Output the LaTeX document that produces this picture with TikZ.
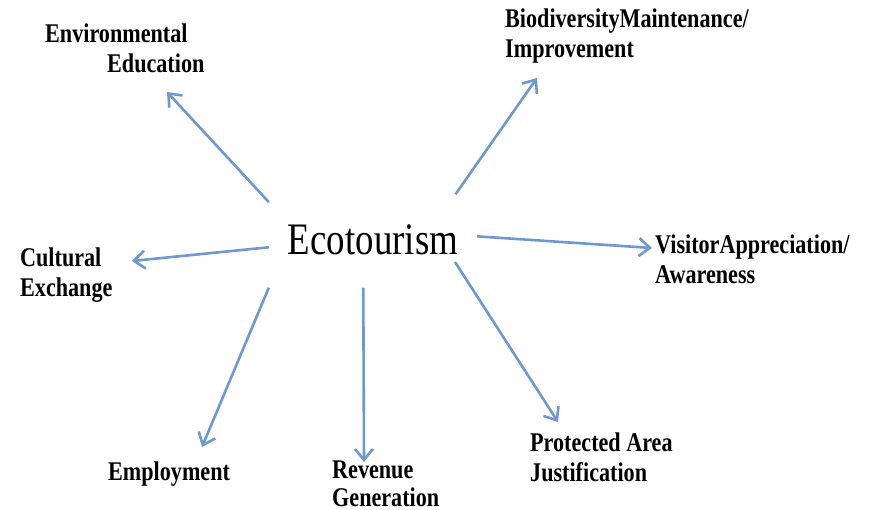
\documentclass[tikz,border=0pt]{standalone}
\usepackage{fontspec}
\setmainfont{Liberation Serif}
\newfontfamily\lblfont[FakeStretch=0.82]{Liberation Serif}
\usetikzlibrary{arrows.meta}
\definecolor{arrowblue}{RGB}{111,151,208}
\begin{document}
\begin{tikzpicture}[x=1pt,y=-1pt,
  lbl/.style={anchor=base west,inner sep=0pt,align=left,
    font=\fontsize{27}{30}\selectfont\lblfont\bfseries},
  arr/.style={draw=arrowblue,line width=2.6pt,
    -{Straight Barb[length=11pt,width=18pt]}}]
\useasboundingbox (0,0) rectangle (873,510);
% centre word
\node[minimum width=208pt,minimum height=91pt,inner sep=0pt,
  font=\fontsize{45}{50}\selectfont\lblfont] (eco) at (373,240) {Ecotourism};
% outcomes (base = last line)
\node[lbl] (env) at (45,73) {Environmental\\\hspace*{62pt}Education};
\node[lbl] (bio) at (505,58) {BiodiversityMaintenance/\\Improvement};
\node[lbl] (cul) at (20,297) {Cultural\\Exchange};
\node[lbl] (vis) at (655,284) {VisitorAppreciation/\\Awareness};
\node[lbl] (emp) at (108,480) {Employment};
\node[lbl] (rev) at (332,506) {Revenue\\[-2pt]Generation};
\node[lbl] (pro) at (530,482) {Protected Area\\Justification};
% arrow tips
\coordinate (envend) at (167,92);
\coordinate (bioend) at (537,78);
\coordinate (culend) at (132,261);
\coordinate (visend) at (652,248);
\coordinate (empend) at (202,447);
\coordinate (revend) at (364,462);
\coordinate (proend) at (558,422);
\draw[arr] (eco.160) -- (envend);
\draw[arr] (eco.29) -- (bioend);
\draw[arr] (eco.184) -- (culend);
\draw[arr] (eco.2) -- (visend);
\draw[arr] ([yshift=-2pt]eco.south west) -- (empend);
\draw[arr] ([yshift=-2pt]eco.258) -- (revend);
\draw[arr] ([shift={(82,22)}]eco.center) -- (proend);
\end{tikzpicture}
\end{document}
